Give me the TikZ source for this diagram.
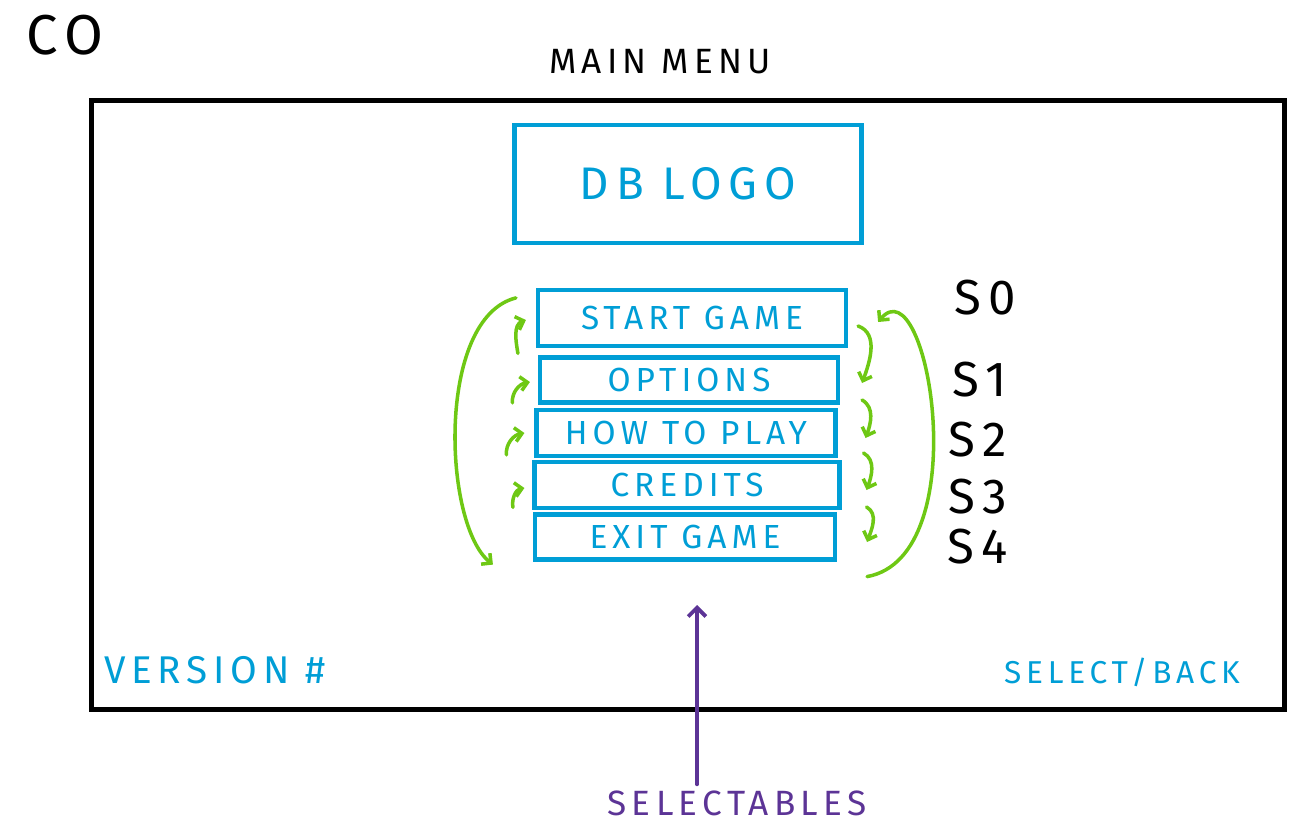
\documentclass[tikz,border=0pt]{standalone}
\usepackage{fontspec}
\setmainfont{Fira Sans}[LetterSpace=15]
\usetikzlibrary{arrows.meta,calc}
\definecolor{mnB}{RGB}{0,158,214}
\definecolor{mnG}{RGB}{110,200,20}
\definecolor{mnP}{RGB}{92,52,150}
\newcommand{\FS}[1]{\fontsize{#1}{#1}\selectfont}

\begin{document}
\begin{tikzpicture}[
    x=0.02cm, y=0.02cm,
    frm/.style={draw=black, line width=2.8pt, minimum width=23.86cm, minimum height=12.2cm, inner sep=0pt},
    B/.style={draw=mnB, line width=2.4pt, inner sep=0pt, text=mnB, font=\FS{19}},
    hop/.style={draw=mnG, line width=2pt, line cap=round, -{Straight Barb[length=4pt,width=8pt]}},
    pa/.style={draw=mnP, line width=2.2pt, line cap=round, -{Straight Barb[length=5pt,width=10pt]}},
    sl/.style={font=\FS{28}},
    bl/.style={text=mnB, font=\FS{20}},
    tag/.style={font=\FS{20}},
  ]
  \useasboundingbox (0,0) rectangle (1310,-834);

  % screen frame and titles
  \node[frm] (frame) at (688,-405) {};
  \node[font=\FS{32}] (co) at (65,-35) {CO};
  \node[tag] (title) at (660,-62) {MAIN MENU};

  % logo and menu entries
  \node[B, minimum width=6.94cm, minimum height=2.36cm, font=\FS{26}] (logo) at (688,-184) {DB LOGO};
  \node[B, minimum width=6.16cm, minimum height=1.12cm] (start) at (692,-318) {START GAME};
  \node[B, minimum width=5.96cm, minimum height=0.90cm] (opt) at (689,-380) {OPTIONS};
  \node[B, minimum width=5.98cm, minimum height=0.92cm] (how) at (686,-433) {HOW TO PLAY};
  \node[B, minimum width=6.10cm, minimum height=0.92cm] (cred) at (687,-485) {CREDITS};
  \node[B, minimum width=6.00cm, minimum height=0.90cm] (exit) at (685,-537) {EXIT GAME};

  % selection indices
  \node[sl] (s0) at (985,-298) {S0};
  \node[sl] (s1) at (980,-380) {S1};
  \node[sl] (s2) at (978,-440) {S2};
  \node[sl] (s3) at (978,-497) {S3};
  \node[sl] (s4) at (978,-547) {S4};

  % moving up
  \draw[hop] ($(opt.north west)+(-20,2)$) to[out=100,in=200] ($(start.west)+(-10,-2)$);
  \draw[hop] ($(how.north west)+(-22,5)$) to[out=95,in=190] ($(opt.west)+(-8,-2)$);
  \draw[hop] ($(cred.north west)+(-26,5)$) to[out=95,in=190] ($(how.west)+(-10,0)$);
  \draw[hop] ($(exit.north west)+(-20,5)$) to[out=100,in=190] ($(cred.west)+(-8,-3)$);
  \draw[hop] ($(start.north west)+(-20,-10)$) .. controls +(-80,-20) and +(-50,40) .. ($(exit.south west)+(-40,-3)$);

  % moving down
  \draw[hop] ($(start.east)+(10,-8)$) to[out=-20,in=70] ($(opt.east)+(22,-3)$);
  \draw[hop] ($(opt.east)+(22,-20)$) to[out=-30,in=70] ($(how.east)+(28,-5)$);
  \draw[hop] ($(how.east)+(26,-20)$) to[out=-30,in=70] ($(cred.east)+(25,-5)$);
  \draw[hop] ($(cred.east)+(25,-22)$) to[out=-30,in=70] ($(exit.east)+(30,-5)$);
  \draw[hop] ($(exit.south east)+(30,-15)$) .. controls +(110,20) and +(50,60) .. ($(start.east)+(30,-4)$);

  % footer
  \node[bl, font=\FS{22}] (ver) at (215,-670) {VERSION \#};
  \node[bl, font=\FS{18}] (back) at (1122,-672) {SELECT/BACK};

  % callout
  \coordinate (tip) at (697,-605);
  \node[text=mnP, font=\FS{20}] (selt) at (737,-803) {SELECTABLES};
  \draw[pa] (selt.north -| tip) -- (tip);

\end{tikzpicture}
\end{document}
